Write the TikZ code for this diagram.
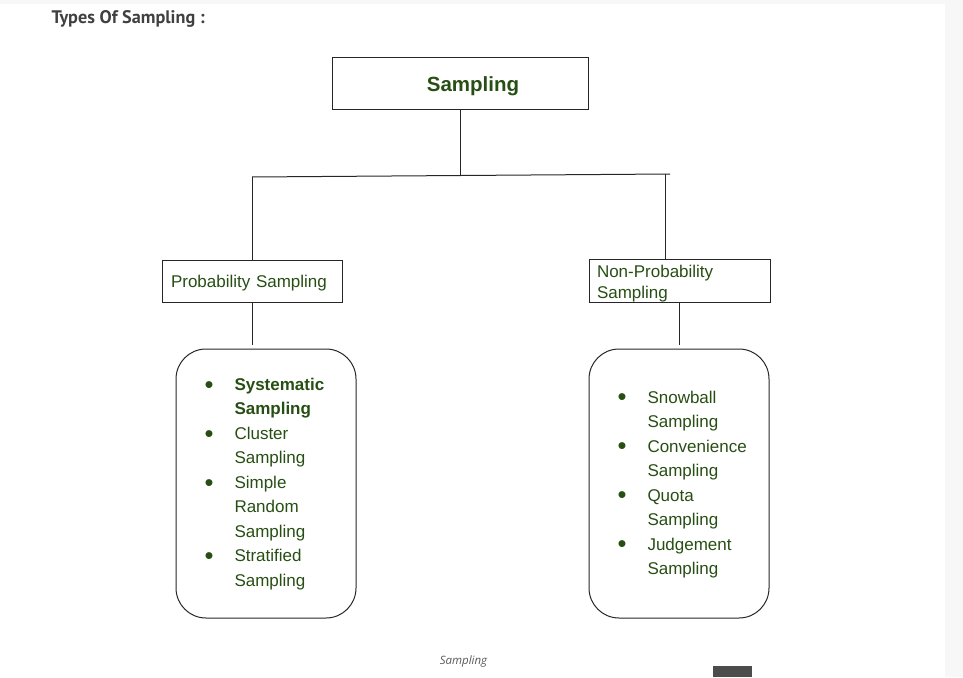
\documentclass[tikz,border=0pt]{standalone}
\usepackage{fontspec}
\setmainfont{Liberation Sans}
\newfontfamily\headfont{PT Sans}
\newfontfamily\capfont{Open Sans}
\definecolor{leaf}{HTML}{274E13}
\definecolor{ink}{HTML}{404040}
\newcommand\itm[1]{\makebox[30pt][l]{\raisebox{-2.6pt}{\scalebox{1.5}{\textbullet}}}#1}
\newcommand\cnt[1]{\hspace*{30pt}#1}
\begin{document}
\begin{tikzpicture}[x=1pt,y=-1pt,line width=1pt,
    box/.style={draw=black!85,text=leaf,inner sep=0pt,font=\fontsize{17}{21}\selectfont},
    roundbox/.style={box,rounded corners=30pt,minimum width=180,minimum height=269},
    items/.style={text=leaf,inner sep=0pt,anchor=west,align=left,font=\fontsize{17}{24.5}\selectfont}]
    \useasboundingbox (0,0) rectangle (963,677);
    \fill[black!3] (945,0) rectangle (963,677);
    \fill[black!3] (0,0) rectangle (945,4);
    
    \node[font=\headfont\bfseries\fontsize{18.2}{21}\selectfont,text=ink,anchor=west,inner sep=0pt] (title) at (51,18.5) {Types Of Sampling :};
    
    \node[box,minimum width=256,minimum height=51] (samp) at (460,83.5) {};
    \node[text=leaf,font=\bfseries\fontsize{20.5}{24}\selectfont,inner sep=0pt,text depth=0pt] (samptxt) at (473,84) {Sampling};
    \node[box,minimum width=180,minimum height=42,text width=162,inner xsep=9pt,text depth=0pt,align=left] (prob) at (252,281) {Probability Sampling};
    \node[box,minimum width=181,minimum height=43,text width=165,inner xsep=8pt,text depth=18.6pt,align=left] (nonp) at (679.5,280.5) {Non-Probability\\Sampling};
    
    \node[roundbox] (pbox) at (266,483.5) {};
    \node[roundbox] (nbox) at (679,483.5) {};
    \node[items] (plist) at (204,484) {\itm{\textbf{Systematic}}\\\cnt{\textbf{Sampling}}\\\itm{Cluster}\\\cnt{Sampling}\\\itm{Simple}\\\cnt{Random}\\\cnt{Sampling}\\\itm{Stratified}\\\cnt{Sampling}};
    \node[items] (nlist) at (617,484.5) {\itm{Snowball}\\\cnt{Sampling}\\\itm{Convenience}\\\cnt{Sampling}\\\itm{Quota}\\\cnt{Sampling}\\\itm{Judgement}\\\cnt{Sampling}};
    
    % tree lines
    \coordinate (jl) at (252,177);
    \coordinate (jm) at (460,175.5);
    \coordinate (jr) at (670,174);
    \coordinate (jn) at (665,174.2);
    \draw[black!85] (samp.south) -- (jm);
    \draw[black!85] (jl) -- (jr);
    \draw[black!85] (jl) -- (prob.north);
    \draw[black!85] (jn) -- (jn |- nonp.north);
    \draw[black!85] (prob.south) -- ([yshift=4pt]prob.south |- pbox.north);
    \draw[black!85] (nonp.south) -- ([yshift=4pt]nonp.south |- nbox.north);
    
    \node[font=\capfont\itshape\fontsize{11.5}{14}\selectfont,text=black!65,inner sep=0pt] (cap) at (463.5,662) {Sampling};
    \fill[black!70] (713,666) rectangle (752,677);
\end{tikzpicture}
\end{document}
